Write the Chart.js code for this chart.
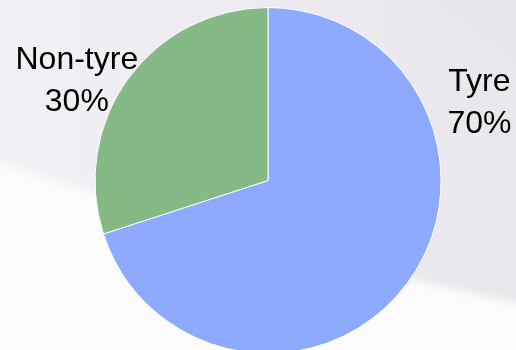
<!DOCTYPE html>
<html>
<head>
<meta charset="utf-8">
<script src="https://cdn.jsdelivr.net/npm/chart.js@4/dist/chart.umd.min.js"></script>
<style>
  html, body { margin: 0; padding: 0; width: 516px; height: 350px; overflow: hidden; background: #f0eef2; }
  canvas { display: block; }
</style>
</head>
<body>
<canvas id="chart" width="516" height="360"></canvas>
<script>
// Revenue split by segment
const categories = ['Tyre', 'Non-tyre'];
const shares = [70, 30];
const sliceColors = ['#8daafe', '#85ba86'];
// Label anchors, in units of the pie radius from its centre
const labelOffsets = [[1.222, -0.395], [-1.105, -0.524]];

// Soft slide-style backdrop: grey wash with a white sweep across the lower part
const backdrop = {
  id: 'backdrop',
  beforeDraw(chart) {
    const ctx = chart.ctx;
    const w = chart.width, h = chart.height;
    ctx.save();
    const g = ctx.createLinearGradient(0, 0, w, 0);
    g.addColorStop(0, '#f2f0f4');
    g.addColorStop(1, '#e9e7eb');
    ctx.fillStyle = g;
    ctx.fillRect(0, 0, w, h);

    ctx.filter = 'blur(2px)';
    ctx.fillStyle = '#e7e5e9';
    ctx.beginPath();
    ctx.moveTo(420, -10);
    ctx.lineTo(w + 20, -10);
    ctx.lineTo(w + 20, 70);
    ctx.closePath();
    ctx.fill();

    ctx.filter = 'blur(4px)';
    ctx.fillStyle = '#fcfcfd';
    ctx.beginPath();
    ctx.moveTo(-20, 156);
    ctx.quadraticCurveTo(258, 250, w + 20, 307);
    ctx.lineTo(w + 20, h + 20);
    ctx.lineTo(-20, h + 20);
    ctx.closePath();
    ctx.fill();
    ctx.restore();
  }
};

// Category name and percentage, two lines, beside each slice
const sliceLabels = {
  id: 'sliceLabels',
  afterDatasetsDraw(chart) {
    const ctx = chart.ctx;
    const ds = chart.data.datasets[0];
    const total = ds.data.reduce((a, b) => a + b, 0);
    const arcs = chart.getDatasetMeta(0).data;
    ctx.save();
    ctx.font = '32px "Liberation Sans", Arial, sans-serif';
    ctx.fillStyle = '#000000';
    ctx.textAlign = 'center';
    ctx.textBaseline = 'alphabetic';
    arcs.forEach((arc, i) => {
      const r = arc.outerRadius;
      const cx = arc.x + labelOffsets[i][0] * r;
      const cy = arc.y + labelOffsets[i][1] * r;
      const pct = Math.round(ds.data[i] / total * 100) + '%';
      ctx.fillText(chart.data.labels[i], cx, cy - 21);
      ctx.fillText(pct, cx, cy + 21);
    });
    ctx.restore();
  }
};

new Chart(document.getElementById('chart'), {
  type: 'pie',
  data: {
    labels: categories,
    datasets: [{
      data: shares,
      backgroundColor: sliceColors,
      borderColor: '#ffffff',
      borderWidth: 1
    }]
  },
  options: {
    responsive: false,
    animation: false,
    layout: { padding: { top: 7, bottom: 6, left: 20, right: 0 } },
    plugins: {
      legend: { display: false },
      tooltip: { enabled: false }
    }
  },
  plugins: [backdrop, sliceLabels]
});
</script>
</body>
</html>
